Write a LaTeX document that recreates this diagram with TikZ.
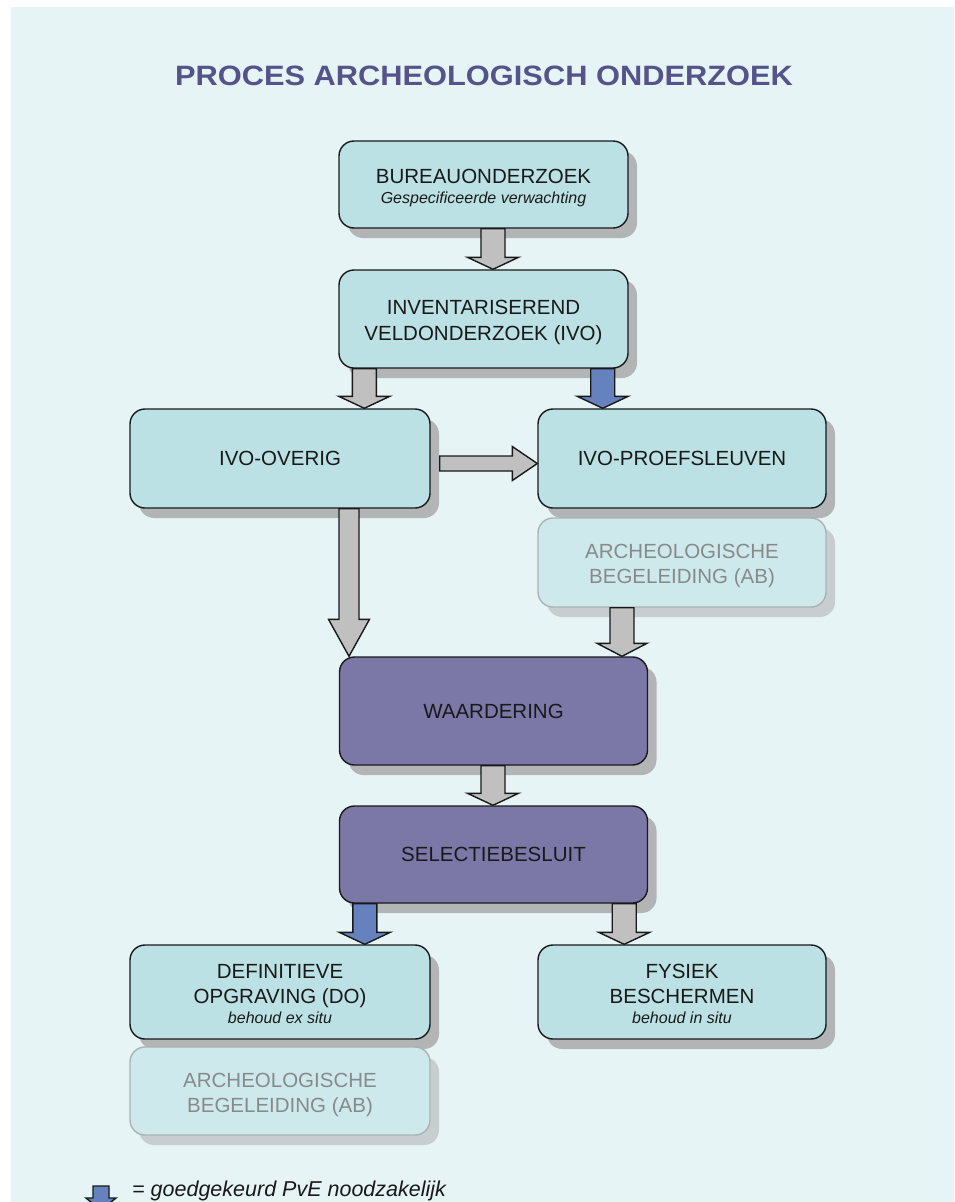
\documentclass[tikz,border=0pt]{standalone}
\usepackage{fontspec}
\usepackage{graphicx}
\setmainfont{Liberation Sans}
\usetikzlibrary{shadows,calc}
\definecolor{bgc}{RGB}{230,244,245}
\definecolor{boxc}{RGB}{187,225,228}
\definecolor{fadec}{RGB}{206,233,236}
\definecolor{fadeline}{RGB}{170,178,180}
\definecolor{fadetext}{RGB}{135,138,140}
\definecolor{purp}{RGB}{123,120,168}
\definecolor{shad}{RGB}{178,180,182}
\definecolor{fshad}{RGB}{200,206,208}
\definecolor{bluea}{RGB}{102,130,190}
\definecolor{graya}{RGB}{192,192,192}
\definecolor{titlec}{RGB}{84,84,138}
\definecolor{ink}{RGB}{25,25,25}
\newcommand\mytop{\rule{0pt}{22pt}}
\newcommand\mybot{\rule[-4pt]{0pt}{4pt}}
\newcommand\subf{\fontsize{16}{19}\selectfont\itshape}
\newcommand\vblock[6]{\draw[#3] let \p1=(#1), \p2=(#2) in
  (\x1-#4,\y1) -- (\x1+#4,\y1) -- (\x1+#4,\y2+#6) -- (\x1+#5,\y2+#6) -- (\x1,\y2)
  -- (\x1-#5,\y2+#6) -- (\x1-#4,\y2+#6) -- cycle;}
\newcommand\hblock[6]{\draw[#3] let \p1=(#1), \p2=(#2) in
  (\x1,\y1-#4) -- (\x2-#6,\y1-#4) -- (\x2-#6,\y1-#5) -- (\x2,\y1)
  -- (\x2-#6,\y1+#5) -- (\x2-#6,\y1+#4) -- (\x1,\y1+#4) -- cycle;}
\tikzset{
  basebox/.style={draw=ink, line width=1.4pt, rounded corners=15pt, fill=boxc,
    align=center, inner sep=0pt, text=ink, font=\fontsize{20.5}{25}\selectfont},
  box/.style={basebox, drop shadow={shadow xshift=9pt, shadow yshift=-10pt, fill=shad, opacity=1}},
  purpbox/.style={box, fill=purp},
  fadebox/.style={basebox, draw=fadeline, fill=fadec, text=fadetext,
    drop shadow={shadow xshift=9pt, shadow yshift=-10pt, fill=fshad, opacity=1}},
  garrow/.style={draw=ink, line width=1.4pt, fill=graya},
  barrow/.style={draw=ink, line width=1.4pt, fill=bluea}
}
\begin{document}
\begin{tikzpicture}[x=1pt,y=-1pt]
\useasboundingbox (0,0) rectangle (954,1202);
\clip (0,0) rectangle (954,1202);
\fill[white] (0,0) rectangle (954,1202);
\fill[bgc] (11,7) rectangle (954,1202);
\node[font=\fontsize{28}{30}\selectfont\bfseries, text=titlec, anchor=base, inner sep=0pt] (title) at (484,85) {\scalebox{1.1}[1]{PROCES ARCHEOLOGISCH ONDERZOEK}};

\node[box, minimum width=289pt, minimum height=87pt] (bur) at (483.5,184.5)
  {\mytop BUREAUONDERZOEK\\[-5pt]{\subf Gespecificeerde verwachting}};
\node[box, minimum width=289pt, minimum height=98pt] (ivo) at (483.5,319)
  {\mytop INVENTARISEREND\\[1pt]VELDONDERZOEK (IVO)};
\node[box, minimum width=300pt, minimum height=99pt] (overig) at (280,458.5) {IVO-OVERIG};
\node[box, minimum width=288pt, minimum height=99pt] (proef) at (682,458.5) {IVO-PROEFSLEUVEN};
\node[fadebox, minimum width=288pt, minimum height=89pt] (ab1) at (682,562.5)
  {\mytop ARCHEOLOGISCHE\\BEGELEIDING (AB)};
\node[purpbox, minimum width=308pt, minimum height=108pt] (waard) at (493.5,711) {WAARDERING};
\node[purpbox, minimum width=308pt, minimum height=97pt] (sel) at (493.5,854.5) {SELECTIEBESLUIT};
\node[box, minimum width=300pt, minimum height=94pt] (do) at (280,992)
  {\mytop DEFINITIEVE\\OPGRAVING (DO)\\[-5pt]{\subf behoud ex situ}\mybot};
\node[box, minimum width=288pt, minimum height=94pt] (fys) at (682,992)
  {\mytop FYSIEK\\BESCHERMEN\\[-5pt]{\subf behoud in situ}\mybot};
\node[fadebox, minimum width=300pt, minimum height=88pt] (ab2) at (280,1091)
  {\mytop ARCHEOLOGISCHE\\BEGELEIDING (AB)};

\vblock{[xshift=9.5pt]bur.south}{ivo.north}{garrow}{12pt}{25.5pt}{12pt}
\vblock{[xshift=26pt]ivo.south west}{overig.north}{garrow}{12pt}{25.5pt}{12pt}
\vblock{[xshift=-26pt]ivo.south east}{proef.north}{barrow}{12pt}{25.5pt}{12pt}
\hblock{[xshift=9pt,yshift=-5pt]overig.east}{proef.west}{garrow}{7.5pt}{17pt}{25pt}
\vblock{[xshift=69pt]overig.south}{waard.north}{garrow}{10pt}{20.5pt}{37pt}
\vblock{[xshift=-60pt]ab1.south}{waard.north}{garrow}{12pt}{25pt}{13pt}
\vblock{[xshift=-0.5pt]waard.south}{sel.north}{garrow}{12pt}{25.5pt}{12pt}
\vblock{[xshift=26pt]sel.south west}{do.north}{barrow}{12pt}{25.5pt}{12pt}
\vblock{[xshift=-24pt]sel.south east}{fys.north}{garrow}{12pt}{25.5pt}{12pt}

\coordinate (lgA) at (101,1186);
\coordinate (lgB) at (101,1210);
\vblock{lgA}{lgB}{barrow}{8pt}{15pt}{12pt}
\node[anchor=base west, font=\fontsize{21.5}{24}\selectfont\itshape, text=ink, inner sep=0pt] (leg) at (132,1196) {= goedgekeurd PvE noodzakelijk};
\end{tikzpicture}
\end{document}
